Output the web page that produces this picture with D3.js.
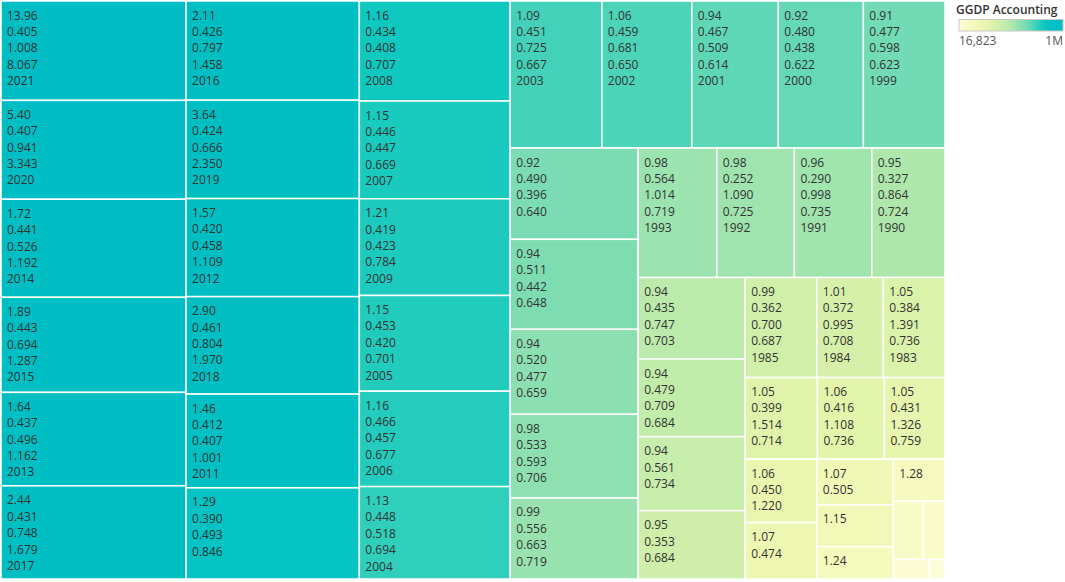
<!DOCTYPE html>
<html>
<head>
<meta charset="utf-8">
<script src="https://cdnjs.cloudflare.com/ajax/libs/d3/7.8.5/d3.min.js"></script>
<style>
  body { margin: 0; background: #fff; }
  text { font-family: "Open Sans", sans-serif; }
</style>
</head>
<body>
<div id="viz-container"></div>
<script>
// treemap data, in the order Tableau laid it out (largest first)
let years = [2021, 2020, 2014, 2015, 2013, 2017, 2016, 2019, 2012, 2018, 2011, 2010,
             2008, 2007, 2009, 2005, 2006, 2004, 2003, 2002, 2001, 2000, 1999,
             1998, 1997, 1996, 1995, 1994, 1993, 1992, 1991, 1990,
             1989, 1988, 1987, 1986, 1985, 1984, 1983, 1982, 1981, 1980,
             1979, 1978, 1977, 1976, 1975, 1974, 1973, 1972, 1971, 1970];

let ggdp = [1000000, 994600, 986400, 956500, 940200, 937500, 934800, 926600, 923900, 918500, 883200, 858700,
            820700, 801600, 793500, 785300, 782600, 758200, 732600, 719000, 691800, 679300, 652700,
            635300, 626100, 591300, 582100, 563600, 553800, 546200, 544600, 515800,
            473900, 451600, 430400, 397300, 389700, 362000, 335300, 320700, 297300, 269000,
            247000, 219600, 190200, 173400, 134500, 118500, 94600, 69300, 38000, 16823];

// label lines (null = not readable in the picture)
let line1 = [13.96, 5.40, 1.72, 1.89, 1.64, 2.44, 2.11, 3.64, 1.57, 2.90, 1.46, 1.29,
             1.16, 1.15, 1.21, 1.15, 1.16, 1.13, 1.09, 1.06, 0.94, 0.92, 0.91,
             0.92, 0.94, 0.94, 0.98, 0.99, 0.98, 0.98, 0.96, 0.95,
             0.94, 0.94, 0.94, 0.95, 0.99, 1.01, 1.05, 1.05, 1.06, 1.05,
             1.06, 1.07, 1.07, 1.15, 1.24, 1.28, null, null, null, null];
let line2 = [0.405, 0.407, 0.441, 0.443, 0.437, 0.431, 0.426, 0.424, 0.420, 0.461, 0.412, 0.390,
             0.434, 0.446, 0.419, 0.453, 0.466, 0.448, 0.451, 0.459, 0.467, 0.480, 0.477,
             0.490, 0.511, 0.520, 0.533, 0.556, 0.564, 0.252, 0.290, 0.327,
             0.435, 0.479, 0.561, 0.353, 0.362, 0.372, 0.384, 0.399, 0.416, 0.431,
             0.450, 0.474, 0.505, null, null, null, null, null, null, null];
let line3 = [1.008, 0.941, 0.526, 0.694, 0.496, 0.748, 0.797, 0.666, 0.458, 0.804, 0.407, 0.493,
             0.408, 0.447, 0.423, 0.420, 0.457, 0.518, 0.725, 0.681, 0.509, 0.438, 0.598,
             0.396, 0.442, 0.477, 0.593, 0.663, 1.014, 1.090, 0.998, 0.864,
             0.747, 0.709, 0.734, 0.684, 0.700, 0.995, 1.391, 1.514, 1.108, 1.326,
             1.220, null, null, null, null, null, null, null, null, null];
let line4 = [8.067, 3.343, 1.192, 1.287, 1.162, 1.679, 1.458, 2.350, 1.109, 1.970, 1.001, 0.846,
             0.707, 0.669, 0.784, 0.701, 0.677, 0.694, 0.667, 0.650, 0.614, 0.622, 0.623,
             0.640, 0.648, 0.659, 0.706, 0.719, 0.719, 0.725, 0.735, 0.724,
             0.703, 0.684, null, null, 0.687, 0.708, 0.736, 0.714, 0.736, 0.759,
             null, null, null, null, null, null, null, null, null, null];

// colour ramp (value stops -> colours)
let colorStops = [16823, 120000, 220000, 300000, 380000, 450000, 520000, 560000, 640000, 700000, 760000, 820000, 880000, 1000000];
let colorRamp = ["#FCFDD8", "#F6FABF", "#EEF7B2", "#E3F4AB", "#D2EFA9", "#C2ECAA", "#ADE7AC", "#98E2AF",
                 "#79DBB4", "#5AD6B7", "#2FCFBB", "#0FC8C0", "#00C0C3", "#00BEC4"];

let viz = d3.select("#viz-container")
  .append("svg")
    .attr("width", 1065)
    .attr("height", 582)
;

let color = d3.scaleLinear()
  .domain(colorStops)
  .range(colorRamp)
  .clamp(true)
;

let rows = years.map((y, i) => ({
  year: y,
  value: ggdp[i],
  lines: [line1[i], line2[i], line3[i], line4[i], y]
}));

let root = d3.hierarchy({ children: rows })
  .sum(d => d.value || 0)
  .sort((a, b) => b.value - a.value)
;

d3.treemap()
  .tile(d3.treemapSquarify)
  .size([944, 578])
  (root)
;

let plot = viz.append("g")
  .attr("transform", "translate(1,1)")
;

let cells = plot.selectAll("g.cell").data(root.leaves()).enter()
  .append("g")
    .attr("class", "cell")
    .attr("transform", d => "translate(" + d.x0 + "," + d.y0 + ")")
;

cells.append("rect")
  .attr("width", d => d.x1 - d.x0)
  .attr("height", d => d.y1 - d.y0)
  .attr("fill", d => color(d.data.value))
  .attr("stroke", "#fff")
  .attr("stroke-width", 1.5)
;

let f2 = d3.format(".2f");
let f3 = d3.format(".3f");
let lh = 16.4;

cells.each(function(d) {
  let g = d3.select(this);
  let cw = d.x1 - d.x0, ch = d.y1 - d.y0;
  for (let i = 0; i < 5; i++) {
    let v = d.data.lines[i];
    if (v == null) break;
    if ((i + 1) * lh + 10.1 > ch) break;
    let s = i == 0 ? f2(v) : (i == 4 ? String(v) : f3(v));
    let t = g.append("text")
      .attr("x", 6)
      .attr("y", 18.5 + i * lh)
      .attr("font-size", 12)
      .attr("fill", "#333")
      .text(s);
    if (t.node().getComputedTextLength() + 12 > cw) { t.remove(); break; }
  }
});

// legend
let lx = 959, lw = 104;
let defs = viz.append("defs");
let grad = defs.append("linearGradient")
  .attr("id", "lg")
;
let lscale = d3.scaleLinear().domain([colorStops[0], colorStops[colorStops.length - 1]]).range([0, 100]);
grad.selectAll("stop").data(colorStops).enter()
  .append("stop")
    .attr("offset", d => lscale(d) + "%")
    .attr("stop-color", d => color(d))
;

viz.append("text")
  .attr("x", 956)
  .attr("y", 14)
  .attr("font-size", 12)
  .attr("font-weight", 600)
  .attr("fill", "#333")
  .text("GGDP Accounting")
;
viz.append("rect")
  .attr("x", lx)
  .attr("y", 19.5)
  .attr("width", lw)
  .attr("height", 11.5)
  .attr("fill", "url(#lg)")
  .attr("stroke", "#c8c8c8")
  .attr("stroke-width", 1)
;
viz.append("text")
  .attr("x", lx)
  .attr("y", 45)
  .attr("font-size", 12)
  .attr("fill", "#555")
  .text(d3.format(",")(d3.min(ggdp)))
;
viz.append("text")
  .attr("x", lx + lw)
  .attr("y", 45)
  .attr("text-anchor", "end")
  .attr("font-size", 12)
  .attr("fill", "#555")
  .text(d3.format(".2~s")(d3.max(ggdp)))
;
</script>
</body>
</html>
